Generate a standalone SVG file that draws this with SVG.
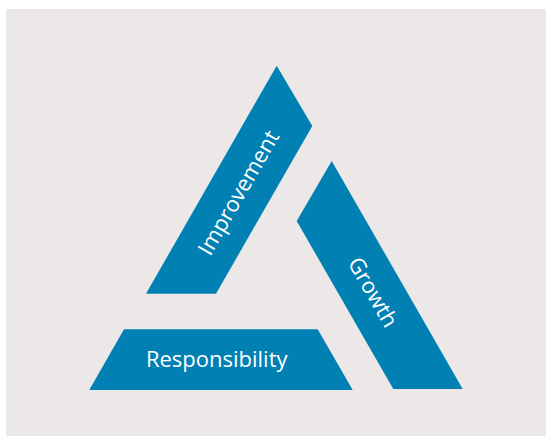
<svg xmlns="http://www.w3.org/2000/svg" width="547" height="439" viewBox="0 0 547 439">
<style>
.band{fill:#0080b3}
.lbl{fill:#ffffff;font-family:"Open Sans","Noto Sans",sans-serif;font-size:22px;text-anchor:middle}
</style>
<rect x="0" y="0" width="547" height="439" fill="#ffffff"/>
<rect x="6" y="9" width="540" height="427" fill="#ece8e7"/>
<g id="improvement">
<polygon class="band" points="276.7,65.7 312.3,126 216,293.7 146,293.7"/>
<text class="lbl" transform="translate(239,193) rotate(-60)" y="7">Improvement</text>
</g>
<g id="growth">
<polygon class="band" points="331.7,161 296.7,221 393.3,389 462.7,389"/>
<text class="lbl" transform="translate(372.5,292.5) rotate(60)" y="7">Growth</text>
</g>
<g id="responsibility">
<polygon class="band" points="124,329.3 317.7,329.3 352.7,390 89.3,390"/>
<text class="lbl" x="216.7" y="366.7">Responsibility</text>
</g>
<g id="connectors"/>
</svg>
